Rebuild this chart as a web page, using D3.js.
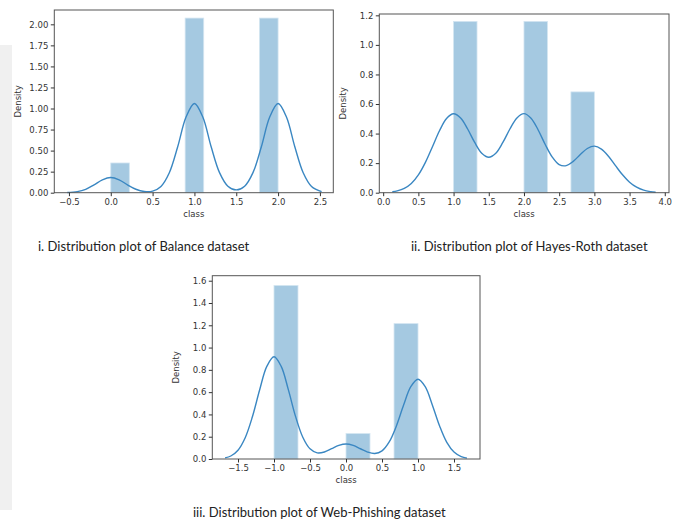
<!DOCTYPE html>
<html>
<head>
<meta charset="utf-8">
<script src="https://cdn.jsdelivr.net/npm/d3@7"></script>
<style>
  body { margin: 0; background: #fff; }
  .tick text { font-family: "DejaVu Sans", sans-serif; font-size: 8.5px; fill: #333; }
  .tick line { stroke: #333; }
  .caption { font-family: Lato, "Open Sans", sans-serif; font-size: 13px; fill: #222; }
  .axis-label { font-family: "DejaVu Sans", sans-serif; font-size: 8.5px; fill: #333; }
</style>
</head>
<body>
<div id="chart"></div>
<script>
"use strict";

const WIDTH = 683, HEIGHT = 520;

// i. Balance dataset
var balanceBarStart   = [0.0, 0.889, 1.778];
var balanceBarEnd     = [0.222, 1.111, 2.0];
var balanceBarDensity = [0.353, 2.074, 2.074];
var balanceKdeX = [-0.52, -0.4, -0.3, -0.2, -0.1, 0.0, 0.1, 0.2, 0.3, 0.4, 0.5, 0.6, 0.7, 0.8, 0.9, 1.0,
                   1.1, 1.2, 1.3, 1.4, 1.5, 1.6, 1.7, 1.8, 1.9, 2.0, 2.1, 2.2, 2.3, 2.4, 2.52];
var balanceKdeY = [0.002, 0.013, 0.040, 0.093, 0.153, 0.180, 0.153, 0.093, 0.041, 0.015, 0.019, 0.075, 0.237, 0.545, 0.898, 1.060,
                   0.898, 0.545, 0.238, 0.077, 0.033, 0.077, 0.238, 0.545, 0.898, 1.060, 0.898, 0.545, 0.237, 0.074, 0.012];
var balanceXTicks = [-0.5, 0.0, 0.5, 1.0, 1.5, 2.0, 2.5];
var balanceYTicks = [0, 0.25, 0.5, 0.75, 1.0, 1.25, 1.5, 1.75, 2.0];

// ii. Hayes-Roth dataset
var hayesBarStart   = [1.0, 2.0, 2.667];
var hayesBarEnd     = [1.333, 2.333, 3.0];
var hayesBarDensity = [1.159, 1.159, 0.682];
var hayesKdeX = [0.13, 0.2, 0.3, 0.4, 0.5, 0.6, 0.7, 0.8, 0.9, 1.0, 1.1, 1.2, 1.3, 1.4, 1.5, 1.6, 1.7, 1.8, 1.9, 2.0,
                 2.1, 2.2, 2.3, 2.4, 2.5, 2.6, 2.7, 2.8, 2.9, 3.0, 3.1, 3.2, 3.3, 3.4, 3.5, 3.6, 3.7, 3.8, 3.87];
var hayesKdeY = [0.006, 0.012, 0.029, 0.062, 0.120, 0.205, 0.311, 0.419, 0.502, 0.534, 0.506, 0.431, 0.340, 0.267, 0.240,
                 0.267, 0.340, 0.431, 0.506, 0.535, 0.504, 0.426, 0.328, 0.242, 0.190, 0.183, 0.212, 0.258, 0.299, 0.315,
                 0.295, 0.247, 0.183, 0.121, 0.071, 0.037, 0.017, 0.007, 0.003];
var hayesXTicks = [0.0, 0.5, 1.0, 1.5, 2.0, 2.5, 3.0, 3.5, 4.0];
var hayesYTicks = [0, 0.2, 0.4, 0.6, 0.8, 1.0, 1.2];

// iii. Web-Phishing dataset
var phishBarStart   = [-1.0, 0.0, 0.667];
var phishBarEnd     = [-0.667, 0.333, 1.0];
var phishBarDensity = [1.557, 0.228, 1.215];
var phishKdeX = [-1.68, -1.6, -1.5, -1.4, -1.3, -1.2, -1.1, -1.0, -0.9, -0.8, -0.7, -0.6, -0.5, -0.4, -0.3, -0.2, -0.1, 0.0,
                 0.1, 0.2, 0.3, 0.4, 0.5, 0.6, 0.7, 0.8, 0.9, 1.0, 1.1, 1.2, 1.3, 1.4, 1.5, 1.6, 1.68];
var phishKdeY = [0.010, 0.027, 0.079, 0.191, 0.379, 0.619, 0.831, 0.917, 0.831, 0.620, 0.380, 0.195, 0.091, 0.055, 0.063,
                 0.093, 0.122, 0.135, 0.122, 0.092, 0.062, 0.049, 0.073, 0.153, 0.297, 0.484, 0.649, 0.716, 0.649, 0.483,
                 0.296, 0.149, 0.062, 0.021, 0.008];
var phishXTicks = [-1.5, -1.0, -0.5, 0.0, 0.5, 1.0, 1.5];
var phishYTicks = [0, 0.2, 0.4, 0.6, 0.8, 1.0, 1.2, 1.4, 1.6];

var captions = [
  "i. Distribution plot of Balance dataset",
  "ii. Distribution plot of Hayes-Roth dataset",
  "iii. Distribution plot of Web-Phishing dataset"
];

var svg = d3.select("#chart").append("svg")
  .attr("width", WIDTH)
  .attr("height", HEIGHT);

// faint grey band on the left edge of the scanned page
svg.append("rect")
  .attr("x", 0).attr("y", 45)
  .attr("width", 12).attr("height", 465)
  .attr("fill", "#f0f0f0");

var panels = [
  { box: [54.3, 10, 333.3, 192.7], xDom: [-0.675, 2.66], yDom: [0, 2.17], yFmt: ".2f",
    starts: balanceBarStart, ends: balanceBarEnd, dens: balanceBarDensity,
    kx: balanceKdeX, ky: balanceKdeY, xt: balanceXTicks, yt: balanceYTicks },
  { box: [379.3, 14, 669, 192.7], xDom: [-0.055, 4.06], yDom: [0, 1.209], yFmt: ".1f",
    starts: hayesBarStart, ends: hayesBarEnd, dens: hayesBarDensity,
    kx: hayesKdeX, ky: hayesKdeY, xt: hayesXTicks, yt: hayesYTicks },
  { box: [212.3, 275.7, 480, 459], xDom: [-1.857, 1.861], yDom: [0, 1.645], yFmt: ".1f",
    starts: phishBarStart, ends: phishBarEnd, dens: phishBarDensity,
    kx: phishKdeX, ky: phishKdeY, xt: phishXTicks, yt: phishYTicks }
];

panels.forEach(function(p) {
  var left = p.box[0], top = p.box[1], right = p.box[2], bottom = p.box[3];
  var x = d3.scaleLinear().domain(p.xDom).range([left, right]);
  var y = d3.scaleLinear().domain(p.yDom).range([bottom, top]);
  var g = svg.append("g");

  g.selectAll("rect.bar")
    .data(p.dens)
    .enter().append("rect")
    .attr("class", "bar")
    .attr("x", function(d, i) { return x(p.starts[i]); })
    .attr("width", function(d, i) { return x(p.ends[i]) - x(p.starts[i]); })
    .attr("y", function(d) { return y(d); })
    .attr("height", function(d) { return y(0) - y(d); })
    .attr("fill", "#a5c9e1")
    .attr("stroke", "#d3e5f1")
    .attr("stroke-width", 0.8);

  var line = d3.line()
    .x(function(d, i) { return x(p.kx[i]); })
    .y(function(d) { return y(d); })
    .curve(d3.curveCatmullRom);

  g.append("path")
    .datum(p.ky)
    .attr("d", line)
    .attr("fill", "none")
    .attr("stroke", "#3a87c2")
    .attr("stroke-width", 1.4);

  // frame
  g.append("rect")
    .attr("x", left).attr("y", top)
    .attr("width", right - left).attr("height", bottom - top)
    .attr("fill", "none")
    .attr("stroke", "#555")
    .attr("stroke-width", 1);

  g.append("g")
    .attr("transform", "translate(0," + bottom + ")")
    .call(d3.axisBottom(x).tickValues(p.xt).tickFormat(d3.format(".1f"))
      .tickSize(3.5).tickPadding(2.5).tickSizeOuter(0))
    .call(function(a) { a.select(".domain").remove(); });

  g.append("g")
    .attr("transform", "translate(" + left + ",0)")
    .call(d3.axisLeft(y).tickValues(p.yt).tickFormat(d3.format(p.yFmt))
      .tickSize(3.5).tickPadding(2.5).tickSizeOuter(0))
    .call(function(a) { a.select(".domain").remove(); });

  g.append("text")
    .attr("class", "axis-label")
    .attr("x", (left + right) / 2)
    .attr("y", bottom + 24)
    .attr("text-anchor", "middle")
    .text("class");

  g.append("text")
    .attr("class", "axis-label")
    .attr("transform", "translate(" + (left - 33.5) + "," + ((top + bottom) / 2) + ") rotate(-90)")
    .attr("text-anchor", "middle")
    .text("Density");
});

var capPos = [[38, 251], [411, 251], [193, 517]];
svg.selectAll("text.caption")
  .data(captions)
  .enter().append("text")
  .attr("class", "caption")
  .attr("x", function(d, i) { return capPos[i][0]; })
  .attr("y", function(d, i) { return capPos[i][1]; })
  .text(function(d) { return d; });
</script>
</body>
</html>
